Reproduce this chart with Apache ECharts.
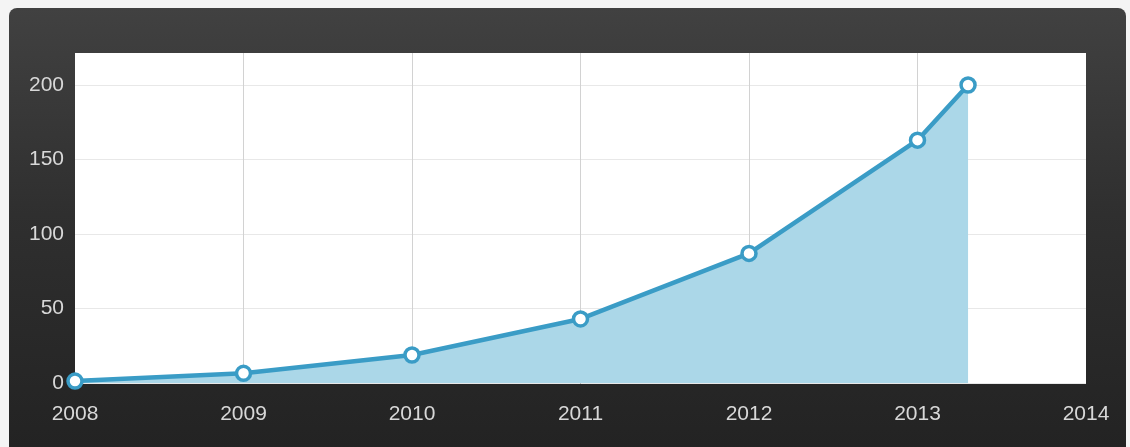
<!DOCTYPE html>
<html>
<head>
<meta charset="utf-8">
<script src="https://cdn.jsdelivr.net/npm/echarts@6/dist/echarts.min.js"></script>
<style>
  html, body { margin: 0; padding: 0; background: #f4f4f4; }
  .box {
    position: absolute;
    left: 9px; top: 8px;
    width: 1117px; height: 460px;
    border-radius: 8px;
    background: linear-gradient(to bottom, #414141 0%, #2f2f2f 45%, #222222 100%);
  }
  #chart { position: absolute; left: 0; top: 0; width: 1130px; height: 447px; }
</style>
</head>
<body>
<div class="box"></div>
<div id="chart"></div>
<script>
// years (x) and values (y)
var years = [2008, 2009, 2010, 2011, 2012, 2013, 2013.3];
var values = [1.3, 6.5, 18.8, 43, 87, 163, 200];
var yTicks = [0, 50, 100, 150, 200];

var myChart = echarts.init(document.getElementById("chart"));
var points = years.map(function (y, i) { return [y, values[i]]; });

var option = {
  backgroundColor: "transparent",
  animation: false,
  grid: {
    left: 75, top: 53, right: 44, bottom: 64,
    show: true, backgroundColor: "#ffffff", borderWidth: 0,
    containLabel: false
  },
  xAxis: {
    type: "value",
    min: 2008, max: 2014, interval: 1,
    axisLine: { show: false },
    axisTick: { show: false },
    axisLabel: {
      color: "#d8d8d8", fontSize: 21, fontFamily: "Liberation Sans, Arial",
      margin: 21,
      formatter: function (v) { return String(v); }
    },
    splitLine: { show: true, showMinLine: false, showMaxLine: false, lineStyle: { color: "#d2d2d2", width: 1 } }
  },
  yAxis: {
    type: "value",
    min: 0, max: 221.5, interval: 50,
    axisLine: { show: false },
    axisTick: { show: false },
    axisLabel: {
      color: "#d8d8d8", fontSize: 21, fontFamily: "Liberation Sans, Arial",
      margin: 11,
      formatter: function (v) { return yTicks.indexOf(v) >= 0 ? String(v) : ""; }
    },
    splitLine: { show: true, showMaxLine: false, lineStyle: { color: "#e8e8e8", width: 1 } }
  },
  series: [
    {
      type: "line",
      data: points,
      clip: false,
      lineStyle: { color: "#3a9cc6", width: 4.5 },
      areaStyle: { color: "#abd7e8", opacity: 1 },
      symbol: "circle",
      symbolSize: 14,
      itemStyle: { color: "#ffffff", borderColor: "#3a9cc6", borderWidth: 3.5 },
      z: 3
    }
  ]
};
myChart.setOption(option);
</script>
</body>
</html>
